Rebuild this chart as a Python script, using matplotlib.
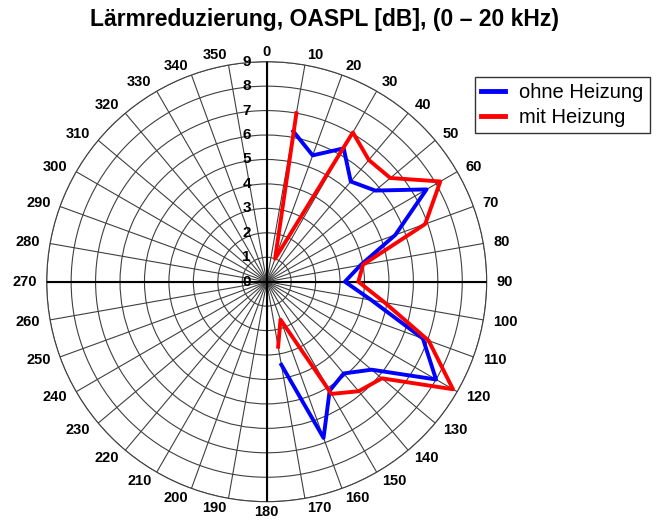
import matplotlib
matplotlib.use('Agg')
import matplotlib.pyplot as plt
import numpy as np

plt.rcParams['font.family'] = ['Liberation Sans', 'DejaVu Sans']

# ========== DATA ==========
angles = [10, 20, 30, 40, 50, 60, 70, 80, 90, 100, 110, 120, 130, 140, 150, 160, 170]
ohne_heizung = [6.25, 5.5, 6.3, 5.35, 5.8, 7.55, 5.6, 3.9, 3.2, 4.35, 6.8, 8.0, 5.6, 4.9, 5.15, 6.8, 3.45]
mit_heizung = [7.0, 1.0, 7.05, 6.5, 6.6, 8.2, 6.9, 4.0, 3.75, 4.9, 7.05, 8.8, 6.15, 5.85, 5.3, 1.65, 2.7]

r_ticks = list(range(0, 10))
theta_ticks = list(range(0, 360, 10))
R_MAX = 9

GRID_COLOR = '#404040'

fig = plt.figure(figsize=(6.64, 5.31), dpi=100)
W, H = 664, 531
ax = fig.add_axes([46.7 / W, 29.3 / H, 440 / W, 440 / H], projection='polar')

ax.set_theta_zero_location('N')
ax.set_theta_direction(-1)
ax.set_ylim(0, R_MAX)

ax.set_yticks(r_ticks[1:])
ax.set_yticklabels([])
ax.set_xticks(np.deg2rad(theta_ticks))
ax.set_xticklabels([])
ax.grid(True, color=GRID_COLOR, linewidth=0.8)
ax.spines['polar'].set_color(GRID_COLOR)
ax.spines['polar'].set_linewidth(0.8)

# thick main axes (0-180 and 90-270)
for a in (0, 90, 180, 270):
    ax.plot([np.deg2rad(a), np.deg2rad(a)], [0, R_MAX], color='black', linewidth=1.5, zorder=3)

# data
th = np.deg2rad(angles)
ax.plot(th, ohne_heizung, color='#0000ff', linewidth=2.8, label='ohne Heizung', zorder=4)
ax.plot(th, mit_heizung, color='#ff0000', linewidth=2.8, label='mit Heizung', zorder=5)

# radial labels along the 0 axis
for r in r_ticks:
    ax.annotate(str(r), xy=(0, r), xytext=(-20, 0), textcoords='offset pixels',
                ha='center', va='center', fontsize=11, fontweight='bold',
                annotation_clip=False, zorder=6)

# angle labels
for a in theta_ticks:
    if a in (0, 180):
        ha = 'center'
    elif a < 180:
        ha = 'left'
    else:
        ha = 'right'
    ax.text(np.deg2rad(a), 9.41, str(a), ha=ha, va='center', fontsize=10.5,
            fontweight='bold', clip_on=False)

fig.text(324 / W, 1 - 26 / H, 'Lärmreduzierung, OASPL [dB], (0 – 20 kHz)',
         ha='center', va='baseline', fontsize=16.5, fontweight='bold')

leg = fig.legend(loc='upper left', bbox_to_anchor=(475 / W, 1 - 77 / H), fontsize=14.5,
                 frameon=True, fancybox=False, edgecolor='black', handlelength=1.2,
                 handletextpad=0.7, labelspacing=0.3, borderpad=0.3, borderaxespad=0)
leg.get_frame().set_linewidth(1.0)
for line in leg.get_lines():
    line.set_linewidth(3.5)

fig.savefig('out.png', dpi=100)
